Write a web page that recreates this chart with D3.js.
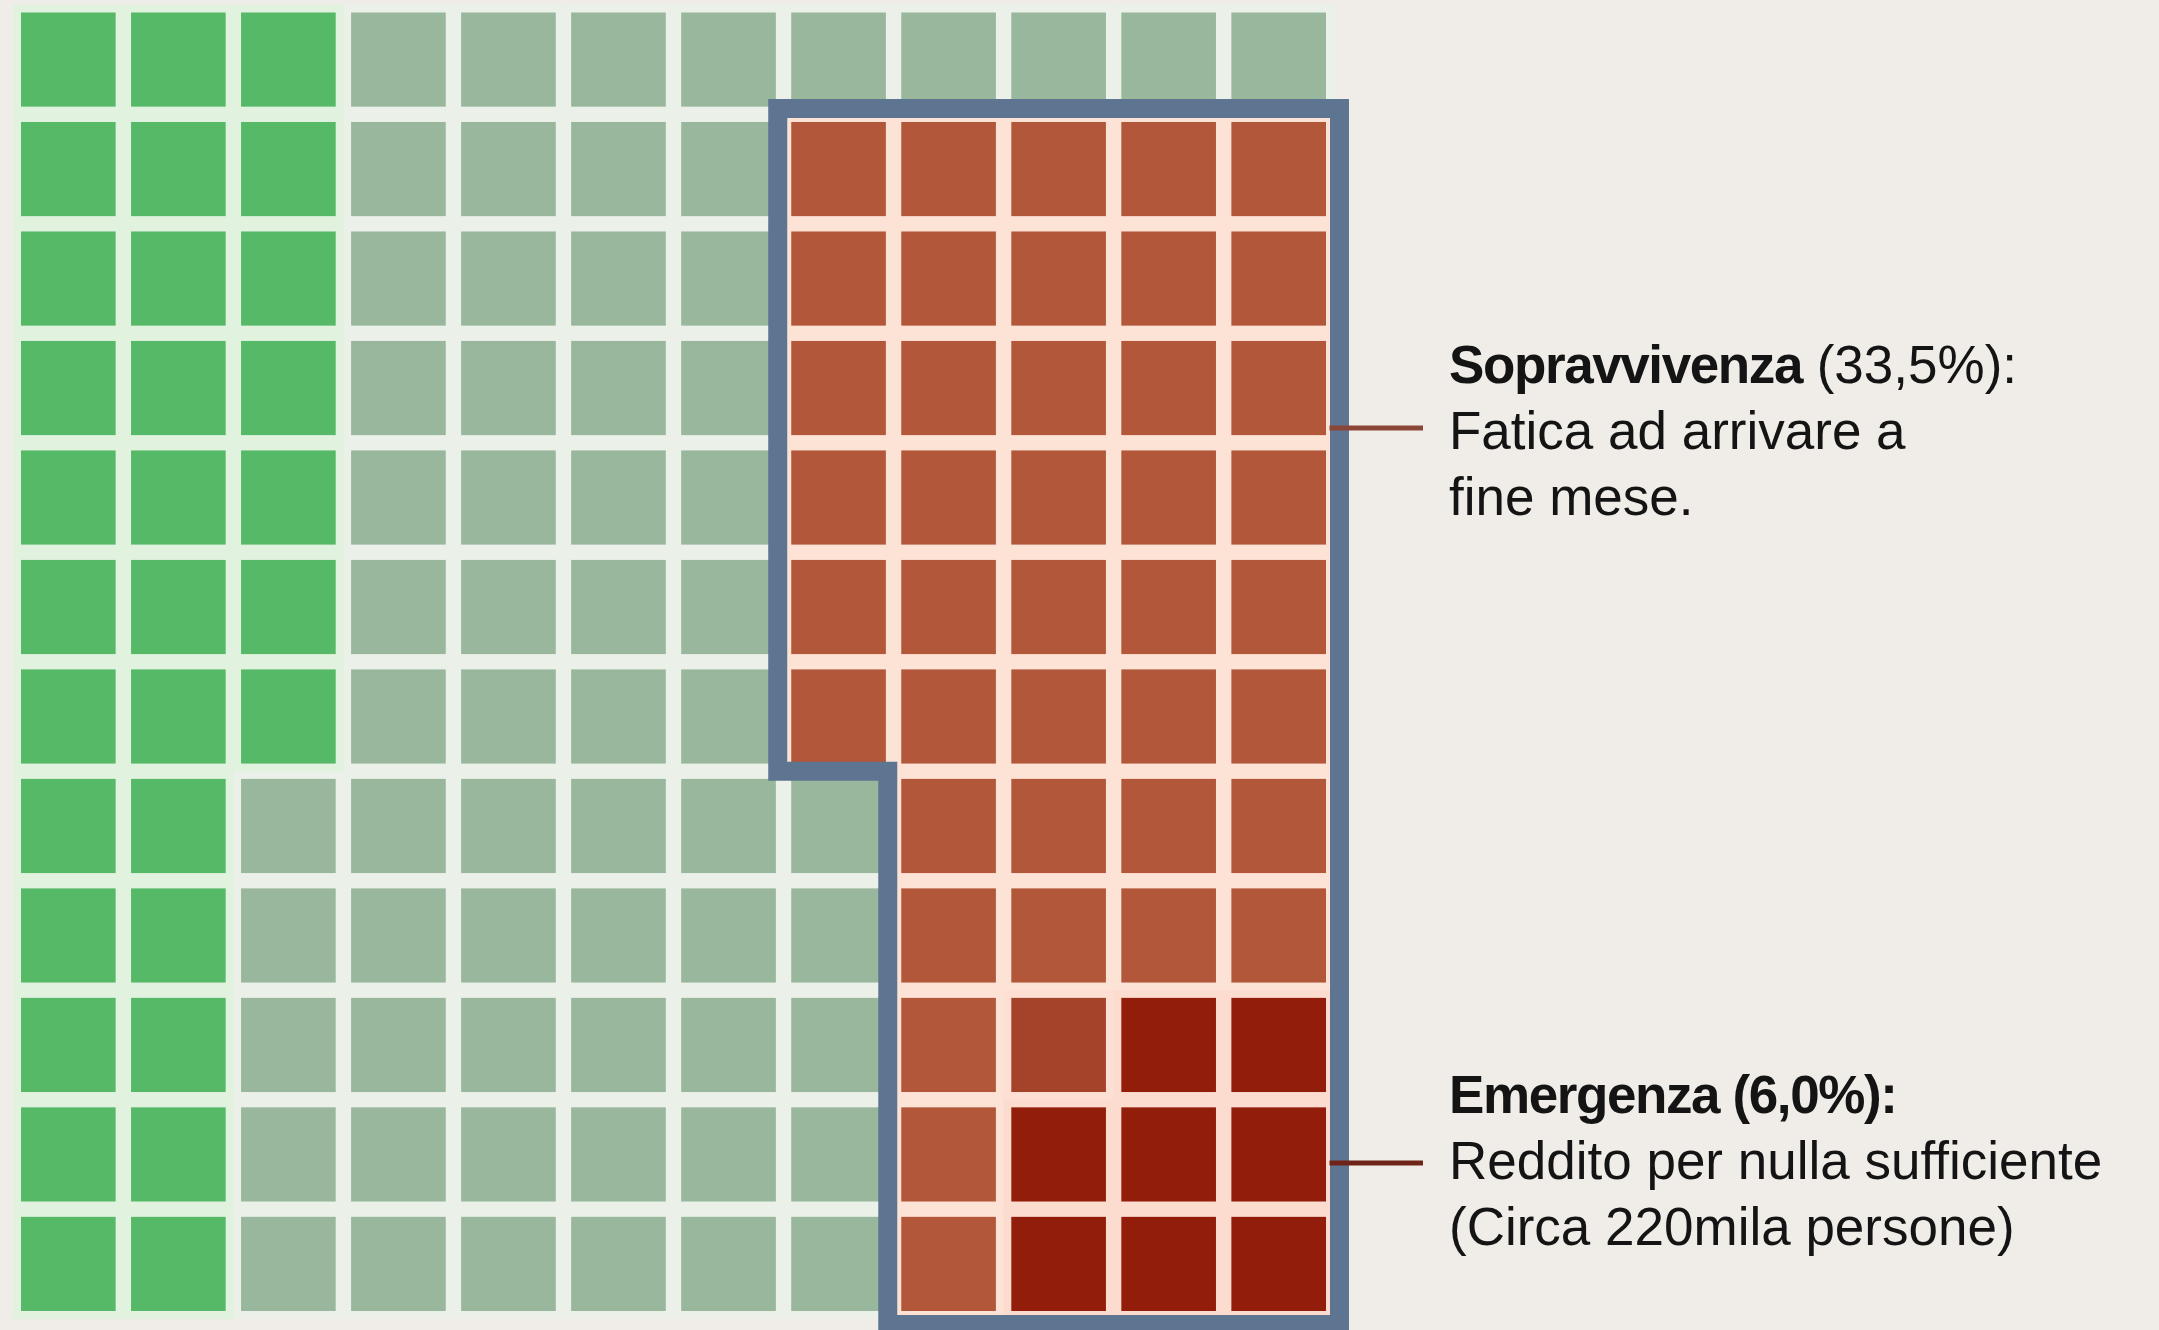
<!DOCTYPE html>
<html>
<head>
<meta charset="utf-8">
<script src="https://cdn.jsdelivr.net/npm/d3@7"></script>
<style>
  html, body { margin: 0; padding: 0; background: #f0ede8; }
  svg { display: block; }
</style>
</head>
<body>
<svg id="chart" width="2159" height="1330"></svg>
<script>
// ---- DATA ----
// One string per row of the waffle grid, one letter per cell:
// G = verde, N = grigio-verde, S = Sopravvivenza, M = transizione, E = Emergenza
const gridRows = [
  "GGGNNNNNNNNN",
  "GGGNNNNSSSSS",
  "GGGNNNNSSSSS",
  "GGGNNNNSSSSS",
  "GGGNNNNSSSSS",
  "GGGNNNNSSSSS",
  "GGGNNNNSSSSS",
  "GGNNNNNNSSSS",
  "GGNNNNNNSSSS",
  "GGNNNNNNSMEE",
  "GGNNNNNNSEEE",
  "GGNNNNNNSEEE"
];
const categoryCodes = ["N", "G", "S", "M", "E"];
const highlightCodes = ["S", "M", "E"];

const annotationTitles = ["Sopravvivenza", "Emergenza (6,0%):"];
const annotationTitleRest = [" (33,5%):", ""];
const annotationLines = [
  ["Fatica ad arrivare a", "fine mese."],
  ["Reddito per nulla sufficiente", "(Circa 220mila persone)"]
];
const annotationCodes = ["S", "E"];

// ---- STYLE ----
const fillColor = d3.scaleOrdinal()
  .domain(categoryCodes)
  .range(["#98b79c", "#55b968", "#b2573a", "#a4432a", "#921d0a"]);
const haloColor = d3.scaleOrdinal()
  .domain(categoryCodes)
  .range(["#ebf0e8", "#e1f2de", "#fde3d6", "#fde0d3", "#fddcd0"]);
const leaderColor = d3.scaleOrdinal().domain(["S", "E"]).range(["#8a4636", "#6e2418"]);

const cells = [];
gridRows.forEach((row, r) => {
  row.split("").forEach((code, c) => cells.push({ r, c, code }));
});

const nCols = gridRows[0].length, nRows = gridRows.length;
const x = d3.scaleBand().domain(d3.range(nCols)).range([21, 1326]).paddingInner(0.14).paddingOuter(0);
const y = d3.scaleBand().domain(d3.range(nRows)).range([12.5, 1311]).paddingInner(0.14).paddingOuter(0);
const bw = x.bandwidth(), bh = y.bandwidth();

const svg = d3.select("#chart");

// halos (tinted gaps)
const halo = 8;
const order = code => categoryCodes.indexOf(code);
svg.append("g")
  .selectAll("rect")
  .data(cells.slice().sort((a, b) => order(a.code) - order(b.code)))
  .join("rect")
  .attr("x", d => x(d.c) - halo)
  .attr("y", d => y(d.r) - halo)
  .attr("width", bw + 2 * halo)
  .attr("height", bh + 2 * halo)
  .attr("fill", d => haloColor(d.code));

// cells
svg.append("g")
  .selectAll("rect")
  .data(cells)
  .join("rect")
  .attr("x", d => x(d.c))
  .attr("y", d => y(d.r))
  .attr("width", bw)
  .attr("height", bh)
  .attr("fill", d => fillColor(d.code));

// outline around the highlighted region (computed from the grid)
const hl = cells.filter(d => highlightCodes.includes(d.code));
const topRow = d3.min(hl, d => d.r), botRow = d3.max(hl, d => d.r);
const rightCol = d3.max(hl, d => d.c);
const leftTop = d3.min(hl.filter(d => d.r === topRow), d => d.c);
const leftBot = d3.min(hl.filter(d => d.r === botRow), d => d.c);
const stepRow = d3.max(hl.filter(d => d.c === leftTop), d => d.r);
const o = 13.5;
const stepY = (y(stepRow) + bh + y(stepRow + 1)) / 2;
const pts = [
  [x(leftTop) - o, y(topRow) - o],
  [x(rightCol) + bw + o, y(topRow) - o],
  [x(rightCol) + bw + o, y(botRow) + bh + o],
  [x(leftBot) - o, y(botRow) + bh + o],
  [x(leftBot) - o, stepY],
  [x(leftTop) - o, stepY]
];
svg.append("path")
  .attr("d", d3.line()(pts) + "Z")
  .attr("fill", "none")
  .attr("stroke", "#5d7591")
  .attr("stroke-width", 19)
  .attr("stroke-linejoin", "miter");

// annotations
const textX = 1449;
const leaderYs = [428, 1163];
const firstBaselines = [383, 1113];
const lineGap = 66;
const outlineRight = x(rightCol) + bw + o;

annotationTitles.forEach((title, i) => {
  svg.append("line")
    .attr("x1", outlineRight - 10)
    .attr("x2", 1423)
    .attr("y1", leaderYs[i])
    .attr("y2", leaderYs[i])
    .attr("stroke", leaderColor(annotationCodes[i]))
    .attr("stroke-width", 5);

  const t = svg.append("text")
    .attr("x", textX)
    .attr("y", firstBaselines[i])
    .attr("font-family", "'Liberation Sans', Arial, Helvetica, sans-serif")
    .attr("font-size", 53)
    .attr("fill", "#141414");
  t.append("tspan")
    .attr("font-weight", "bold")
    .attr("letter-spacing", -1.4)
    .text(title);
  if (annotationTitleRest[i]) {
    t.append("tspan").attr("font-weight", "normal").text(annotationTitleRest[i]);
  }
  annotationLines[i].forEach((line, j) => {
    svg.append("text")
      .attr("x", textX)
      .attr("y", firstBaselines[i] + lineGap * (j + 1))
      .attr("font-family", "'Liberation Sans', Arial, Helvetica, sans-serif")
      .attr("font-size", 53)
      .attr("fill", "#141414")
      .text(line);
  });
});
</script>
</body>
</html>
